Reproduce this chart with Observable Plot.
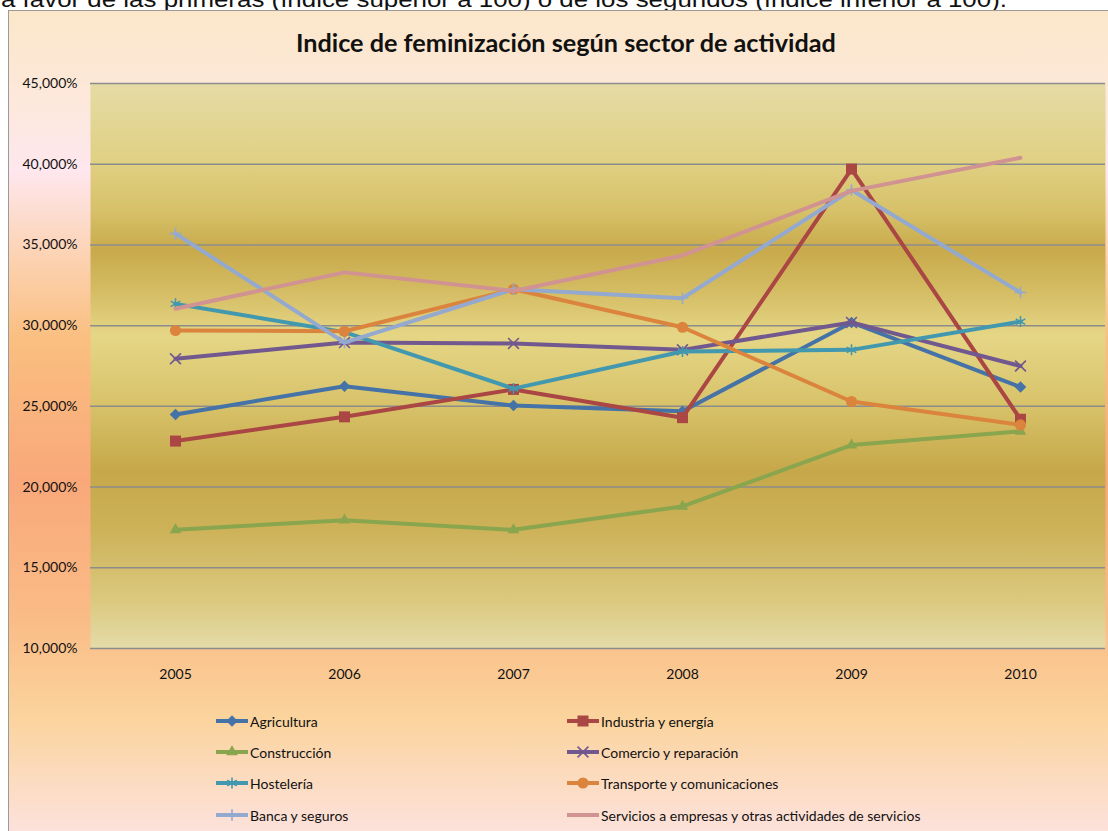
<!DOCTYPE html>
<html>
<head>
<meta charset="utf-8">
<script src="https://cdn.jsdelivr.net/npm/d3@7"></script>
<script src="https://cdn.jsdelivr.net/npm/@observablehq/plot@0.6"></script>
<style>
  html, body { margin: 0; padding: 0; background: #ffffff; }
  #page { position: relative; width: 1108px; height: 831px; overflow: hidden; font-family: Lato, "Open Sans", sans-serif; }
  #frame { position: absolute; left: 8px; top: 10px; width: 1120px; height: 840px;
    border-left: 1px solid #9a9a9a; border-top: 1px solid #9a9a9a; box-sizing: border-box;
    background: linear-gradient(to bottom,
      #fbe7c9 0%, #fde8dc 11%, #fee7ee 19%, #fcd3b4 29%, #fabf80 39%,
      #f9a87a 56%, #fabb86 72%, #fbd39c 84%, #fde4e6 100%); }
  #title { position: absolute; left: 0; top: 28px; width: 1132px; text-align: center; white-space: nowrap; }
  #title span { display: inline-block; font-family: Lato, sans-serif; font-weight: 700; font-size: 24px; color: #111; transform-origin: center; }
  #chart { position: absolute; left: 0; top: 60px; }
  .leg { position: absolute; height: 20px; display: flex; align-items: center; font-size: 14px; color: #111; white-space: nowrap; }
  .leg svg { display: block; margin-right: 2px; }
</style>
</head>
<body>
<div id="page">
  <svg id="toptext" width="1108" height="12" style="position:absolute;left:0;top:0"></svg>
  <div id="frame"></div>
  <div id="title"><span>Indice de feminización según sector de actividad</span></div>
  <div id="chart"></div>
  <div id="legend"></div>
</div>
<script>
// ---- data ----
const years = ["2005", "2006", "2007", "2008", "2009", "2010"];
const seriesNames = [
  "Agricultura",
  "Industria y energía",
  "Construcción",
  "Comercio y reparación",
  "Hostelería",
  "Transporte y comunicaciones",
  "Banca y seguros",
  "Servicios a empresas y otras actividades de servicios"
];
const agricultura  = [24.5, 26.25, 25.05, 24.7, 30.2, 26.2];
const industria    = [22.85, 24.35, 26.05, 24.3, 39.7, 24.2];
const construccion = [17.35, 17.95, 17.35, 18.8, 22.6, 23.45];
const comercio     = [27.95, 28.95, 28.9, 28.5, 30.2, 27.5];
const hosteleria   = [31.35, 29.6, 26.1, 28.4, 28.5, 30.25];
const transporte   = [29.7, 29.65, 32.25, 29.9, 25.3, 23.85];
const banca        = [35.7, 28.95, 32.25, 31.7, 38.4, 32.05];
const servicios    = [31.05, 33.3, 32.15, 34.35, 38.35, 40.4];
const seriesValues = [agricultura, industria, construccion, comercio, hosteleria, transporte, banca, servicios];
const yTicks = [10, 15, 20, 25, 30, 35, 40, 45];
const yTickLabels = ["10,000%", "15,000%", "20,000%", "25,000%", "30,000%", "35,000%", "40,000%", "45,000%"];
const topText = "a favor de las primeras (índice superior a 100) o de los segundos (índice inferior a 100).";

// ---- styles ----
const colors = ["#4572A7", "#AA4643", "#89A54E", "#71588F", "#4198AF", "#DB843D", "#93A9CF", "#D19392"];
const symbols = ["diamond2", "square", "triangle", "times", "asterisk", "circle", "plus", null];
const symFilled = [true, true, true, false, false, true, false, false];
const symR = [5.2, 6.2, 4.3, 5, 5.2, 5.6, 3.8, 0];

const rows = seriesNames.flatMap((s, i) => years.map((y, j) => ({series: s, year: y, value: seriesValues[i][j]})));

// top text (cropped line above the chart)
{
  const svg = d3.select("#toptext");
  const t = svg.append("text").attr("x", 1).attr("y", 7)
    .attr("font-family", "'Liberation Sans', Arial, sans-serif").attr("font-size", 22)
    .attr("fill", "#111").text(topText);
  const w = t.node().getComputedTextLength();
  t.attr("textLength", 1006).attr("lengthAdjust", "spacingAndGlyphs");
}

// title width fit
{
  const sp = document.querySelector("#title span");
  const w = sp.getBoundingClientRect().width;
  sp.style.transform = `scaleX(${540 / w})`;
}

const marks = [
  Plot.frame({fill: "url(#plotGrad)", stroke: null}),
  Plot.gridY(yTicks, {stroke: "#8c8c8c", strokeOpacity: 1, strokeWidth: 1.5}),
  Plot.axisY({ticks: yTicks, tickFormat: d => yTickLabels[yTicks.indexOf(d)], tickSize: 0, tickPadding: 13, label: null, fontSize: 14}),
  Plot.axisX({tickSize: 0, tickPadding: 21, label: null, fontSize: 14})
];
seriesNames.forEach((s, i) => {
  const d = rows.filter(r => r.series === s);
  marks.push(Plot.lineY(d, {x: "year", y: "value", stroke: colors[i], strokeWidth: 4, strokeLinejoin: "round"}));
  if (symbols[i]) {
    marks.push(Plot.dot(d, symFilled[i]
      ? {x: "year", y: "value", symbol: symbols[i], r: symR[i], fill: colors[i], stroke: null}
      : {x: "year", y: "value", symbol: symbols[i], r: symR[i], stroke: colors[i], strokeWidth: 1.6, fill: "none"}));
  }
});

const chart = Plot.plot({
  width: 1108,
  height: 640,
  marginLeft: 90,
  marginRight: 3,
  marginTop: 23,
  marginBottom: 52,
  x: {type: "point", domain: years, padding: 0.5},
  y: {domain: [10, 45]},
  style: {background: "transparent", fontFamily: "Lato, sans-serif", fontSize: "14px", color: "#111", overflow: "visible"},
  marks
});

// gradient for the plot area
{
  const svg = d3.select(chart.tagName.toLowerCase() === "svg" ? chart : chart.querySelector("svg"));
  const defs = svg.insert("defs", ":first-child");
  const g = defs.append("linearGradient").attr("id", "plotGrad").attr("x1", 0).attr("y1", 0).attr("x2", 0).attr("y2", 1);
  const stops = [
    [0, "#e5dba5"], [0.14, "#e0d083"], [0.225, "#d7c169"], [0.295, "#c8aa4b"], [0.366, "#d4bc63"],
    [0.446, "#e5d686"], [0.56, "#d9c46c"], [0.685, "#c6a84a"], [0.79, "#cdb259"], [0.915, "#dbc97f"], [1, "#e4dba8"]
  ];
  stops.forEach(([o, c]) => g.append("stop").attr("offset", o).attr("stop-color", c));
}
document.getElementById("chart").appendChild(chart);

// ---- legend ----
{
  const legend = d3.select("#legend");
  const colX = [216, 567];
  const rowY = [721, 752, 783, 815];
  seriesNames.forEach((s, i) => {
    const col = i % 2, row = Math.floor(i / 2);
    const item = legend.append("div").attr("class", "leg")
      .style("left", colX[col] + "px").style("top", (rowY[row] - 10) + "px");
    const sv = item.append("svg").attr("width", 32).attr("height", 20);
    sv.append("line").attr("x1", 0).attr("x2", 32).attr("y1", 10).attr("y2", 10)
      .attr("stroke", colors[i]).attr("stroke-width", 4);
    if (symbols[i]) {
      const symMap = {diamond2: d3.symbolDiamond2, square: d3.symbolSquare, triangle: d3.symbolTriangle,
        times: d3.symbolTimes, asterisk: d3.symbolAsterisk, circle: d3.symbolCircle, plus: d3.symbolPlus};
      const p = d3.symbol(symMap[symbols[i]], Math.PI * symR[i] * symR[i])();
      const path = sv.append("path").attr("d", p).attr("transform", "translate(16,10)");
      if (symFilled[i]) path.attr("fill", colors[i]);
      else path.attr("fill", "none").attr("stroke", colors[i]).attr("stroke-width", 1.6);
    }
    item.append("span").text(s);
  });
}
</script>
</body>
</html>
